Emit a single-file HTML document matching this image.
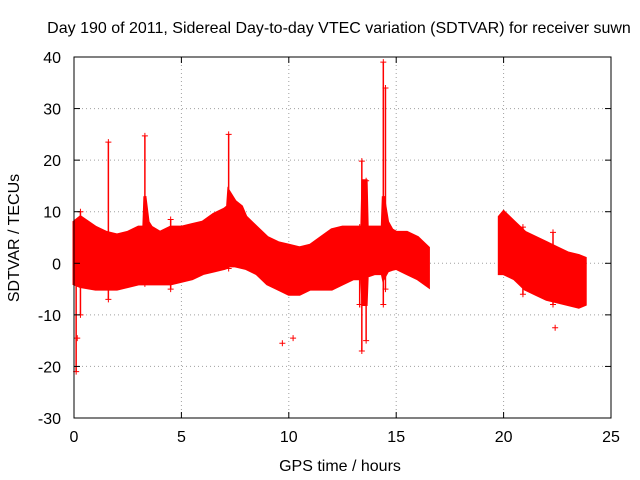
<!DOCTYPE html>
<html><head><meta charset="utf-8"><style>
body{margin:0;background:#fff}
svg{display:block;font-family:"Liberation Sans",sans-serif}
</style></head><body>
<svg id="chart" width="640" height="480">
<text x="339" y="33" font-size="16" text-anchor="middle">Day 190 of 2011, Sidereal Day-to-day VTEC variation (SDTVAR) for receiver suwn</text>
<text x="19" y="238" font-size="16" text-anchor="middle" transform="rotate(-90 19 238)">SDTVAR / TECUs</text>
<text x="340" y="471" font-size="16" text-anchor="middle">GPS time / hours</text>
<g id="grid"></g><g id="data"></g><g id="axes"></g>
</svg>
<script>
const xTicks=[0,5,10,15,20,25];
const yTicks=[-30,-20,-10,0,10,20,30,40];
const seg1Hours=[0,0.3,1,1.5,2,2.5,3,3.25,3.3,3.45,3.6,4,4.5,5,5.5,6,6.5,7,7.15,7.2,7.5,7.8,8,8.5,9,9.5,10,10.5,11,11.5,12,12.5,13,13.4,13.45,13.6,13.65,14,14.35,14.4,14.6,14.8,15,15.5,16,16.5];
const seg1Upper=[8,9,7,6,5.5,6,7,7,13,8,7,6,7,7,7.5,8,9.5,10.5,11,14,12,11,9,7,5,4,3.5,3,3.5,5,6.5,7,7,7,16,16,7,7,7,13,8,6.5,6,6,5,3];
const seg1Lower=[-4,-4.5,-5,-5,-5,-4.5,-4,-4,-4,-4,-4,-4,-4,-3.5,-3,-2,-1.5,-1,-0.8,-0.5,-0.5,-0.8,-1,-2,-4,-5,-6,-6,-5,-5,-5,-4,-3,-3,-8,-8,-2.5,-2,-2,-3,-1.5,-1.2,-1,-2,-3,-4.5];
const seg2Hours=[19.8,20,20.5,21,21.5,22,22.5,23,23.5,23.8];
const seg2Upper=[9,10,8,6,5,4,3,2,1.5,1];
const seg2Lower=[-2,-2,-3,-5,-6,-7,-7.5,-8,-8.5,-8];
const spikeHours=[0.1,0.3,1.6,3.3,4.5,7.2,13.3,13.4,13.6,14.4,14.5,20.9,22.3];
const spikeHigh=[8,10,23.5,24.7,8.5,25,7,19.8,16,39,34,7,6];
const spikeLow=[-21,-10,-7,-4,-5,-1,-8,-17,-15,-8,-5,-6,-8];
const outlierHours=[9.7,10.2,22.4,13.3,0.15];
const outlierValues=[-15.5,-14.5,-12.5,-8,-14.5];
const X=h=>74+h*537/25, Y=v=>418-(v+30)*361/70;
const NS="http://www.w3.org/2000/svg";
function mk(tag,parent,attrs){const e=document.createElementNS(NS,tag);for(const k in attrs)e.setAttribute(k,attrs[k]);document.getElementById(parent).appendChild(e);return e;}
xTicks.forEach(t=>{
 if(t>0&&t<25){const g=mk('line','grid',{x1:X(t),x2:X(t),y1:57,y2:418,stroke:'#a0a0a0','stroke-dasharray':'1,3'});
 
 }
 const tx=mk('text','axes',{x:X(t),y:442,'font-size':16,'text-anchor':'middle'});tx.textContent=t;
 
 
 mk('line','axes',{x1:X(t),x2:X(t),y1:418,y2:412,stroke:'#000'});
 mk('line','axes',{x1:X(t),x2:X(t),y1:57,y2:63,stroke:'#000'});
});
yTicks.forEach(t=>{
 if(t>-30&&t<40){const g=mk('line','grid',{x1:74,x2:611,y1:Y(t),y2:Y(t),stroke:'#a0a0a0','stroke-dasharray':'1,3'});
 
 }
 const tx=mk('text','axes',{x:61,y:Y(t)+6,'font-size':16,'text-anchor':'end'});tx.textContent=t;
 
 
 mk('line','axes',{x1:74,x2:80,y1:Y(t),y2:Y(t),stroke:'#000'});
 mk('line','axes',{x1:611,x2:605,y1:Y(t),y2:Y(t),stroke:'#000'});
});
const b=mk('rect','axes',{x:74,y:57,width:537,height:361,fill:'none',stroke:'#000'});


function band(hs,up,lo,name){
 let pts=hs.map((h,i)=>X(h)+','+Y(up[i]));
 for(let i=hs.length-1;i>=0;i--)pts.push(X(hs[i])+','+Y(lo[i]));
 const p=mk('polygon','data',{points:pts.join(' '),fill:'#ff0000',stroke:'#ff0000','stroke-width':3});
 
 
}
band(seg1Hours,seg1Upper,seg1Lower,'sdtvar-band-1');
band(seg2Hours,seg2Upper,seg2Lower,'sdtvar-band-2');
function plus(h,v,name){
 const g=mk('path','data',{d:`M${X(h)-3},${Y(v)}h6M${X(h)},${Y(v)-3}v6`,stroke:'#ff0000','stroke-width':1});
 
 
}
spikeHours.forEach((h,i)=>{
 const l=mk('line','data',{x1:X(h),x2:X(h),y1:Y(spikeHigh[i]),y2:Y(spikeLow[i]),stroke:'#ff0000','stroke-width':1.5});
 
 
 plus(h,spikeHigh[i],'spike-max-point');plus(h,spikeLow[i],'spike-min-point');
});
outlierHours.forEach((h,i)=>plus(h,outlierValues[i],'outlier-point'));
</script>
</body></html>
